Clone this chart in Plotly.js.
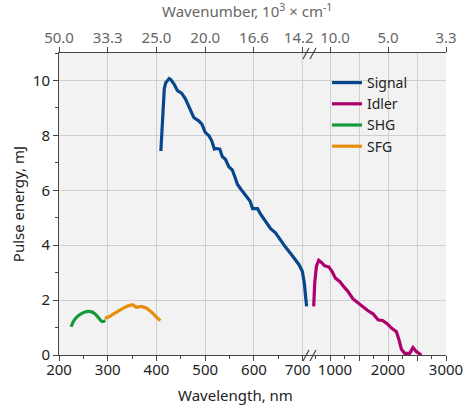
<!DOCTYPE html>
<html>
<head>
<meta charset="utf-8">
<script src="https://cdn.plot.ly/plotly-3.0.1.min.js"></script>
<style>html,body{margin:0;padding:0;background:#fff;}#chart{width:463px;height:410px;}</style>
</head>
<body>
<div id="chart"></div>
<script>
// ---- data ----
var signalX = [409, 412.7, 416, 419, 422.8, 426, 429.4, 436, 443, 451.5, 459.6, 467.6, 476.5, 486.6, 493.2, 500, 508, 513.4, 518.8, 523.4, 530, 534.9, 541.5, 548.2, 555.6, 561.7, 566, 573.7, 583.8, 591.9, 597.3, 607.4, 614, 624, 634.2, 644.2, 654.3, 664.3, 674.4, 684.5, 692.5, 699.2, 703.3, 706, 708];
var signalY = [7.43, 8.96, 9.69, 9.92, 10.03, 10.07, 10.03, 9.87, 9.63, 9.54, 9.32, 9.02, 8.65, 8.53, 8.41, 8.11, 7.98, 7.80, 7.50, 7.52, 7.50, 7.23, 7.13, 6.86, 6.74, 6.45, 6.22, 6.03, 5.81, 5.61, 5.33, 5.33, 5.12, 4.87, 4.60, 4.45, 4.18, 3.94, 3.72, 3.50, 3.29, 3.05, 2.62, 2.13, 1.77];

var idlerX = [719, 736, 765, 805, 852, 909, 978, 1034, 1093, 1167, 1241, 1310, 1397, 1483, 1569, 1655, 1741, 1828, 1914, 1990, 2059, 2145, 2190, 2231, 2288, 2374, 2431, 2490, 2576];
var idlerY = [1.77, 2.62, 3.23, 3.45, 3.37, 3.25, 3.21, 3.05, 2.80, 2.68, 2.48, 2.31, 2.04, 1.89, 1.74, 1.61, 1.50, 1.28, 1.25, 1.13, 0.98, 0.85, 0.55, 0.21, 0.06, 0.06, 0.27, 0.12, 0.0];

var shgX = [224.8, 231.5, 241.5, 251.6, 265, 273.8, 281.8, 288.5, 295.3];
var shgY = [1.03, 1.28, 1.46, 1.56, 1.58, 1.50, 1.34, 1.22, 1.25];

var sfgX = [294, 302, 312, 322, 332, 342, 350.3, 359, 369, 379, 389, 399, 408];
var sfgY = [1.34, 1.38, 1.50, 1.62, 1.71, 1.79, 1.83, 1.74, 1.77, 1.71, 1.58, 1.40, 1.25];

// tick labels: wavelength (bottom) and wavenumber (top)
var leftTicks = [200, 300, 400, 500, 600];
var leftTickText = ['200', '300', '400', '500', '600'];
var leftBreakTick = [700];
var leftBreakText = ['700'];
var rightTicks = [1500, 2000, 2500, 3000];
var rightTickText = ['', '2000', '', '3000'];
var rightBreakTick = [1000];
var rightBreakText = ['1000'];
var topLeftTicks = [200, 300, 400, 500, 600];
var topLeftText = ['50.0', '33.3', '25.0', '20.0', '16.6'];
var topLeftBreakText = ['14.2'];
var topRightTicks = [2000, 3000];
var topRightText = ['5.0', '3.3'];
var topRightBreakText = ['10.0'];

// ---- styling ----
var FONT = 'Noto Sans, Open Sans, sans-serif';
var W = 463, H = 410, ML = 59, MR = 17, MT = 53, MB = 55;
var PW = W - ML - MR, PH = H - MT - MB;
var split = 251 / PW;
function px(x) { return (x - ML) / PW; }
function py(y) { return (H - MB - y) / PH; }

var lw = 3.2;
function carrier(xs, axis) {
  return {x: xs, y: xs.map(function () { return null; }), xaxis: axis, yaxis: 'y', mode: 'lines', showlegend: false, hoverinfo: 'skip'};
}
var traces = [
  {x: signalX, y: signalY, xaxis: 'x', yaxis: 'y', mode: 'lines', name: 'Signal', line: {color: '#08468c', width: lw}},
  {x: idlerX, y: idlerY, xaxis: 'x2', yaxis: 'y', mode: 'lines', name: 'Idler', line: {color: '#ad006e', width: lw}},
  {x: shgX, y: shgY, xaxis: 'x', yaxis: 'y', mode: 'lines', name: 'SHG', line: {color: '#17993a', width: lw, shape: 'spline'}},
  {x: sfgX, y: sfgY, xaxis: 'x', yaxis: 'y', mode: 'lines', name: 'SFG', line: {color: '#e88e0c', width: lw}},
  // empty carriers so the overlaid axes are drawn
  carrier(topLeftTicks, 'x3'), carrier(topRightTicks, 'x4'),
  carrier(leftBreakTick, 'x5'), carrier(rightBreakTick, 'x6'),
  carrier(leftBreakTick, 'x7'), carrier(rightBreakTick, 'x8')
];

var axisCommon = {
  showline: true, linecolor: '#444', linewidth: 1,
  ticks: 'outside', ticklen: 5, tickcolor: '#444', tickwidth: 1,
  gridcolor: '#cfcfcf', gridwidth: 1, zeroline: false, ticklabeloverflow: 'allow',
  tickfont: {family: FONT, size: 15, color: '#222'}
};
function ax(extra) { return Object.assign({}, axisCommon, extra); }
var topFont = {family: FONT, size: 15, color: '#666'};

var slashes = [];
[[303, 309], [310, 316]].forEach(function (s) {
  slashes.push({type: 'line', xref: 'paper', yref: 'paper', x0: px(s[0]), y0: py(H - MB + 6), x1: px(s[1]), y1: py(H - MB - 5), line: {color: '#444', width: 1.2}});
  slashes.push({type: 'line', xref: 'paper', yref: 'paper', x0: px(s[0]), y0: py(MT + 6), x1: px(s[1]), y1: py(MT - 5), line: {color: '#444', width: 1.2}});
});

var layout = {
  width: W, height: H,
  margin: {l: ML, r: MR, t: MT, b: MB},
  paper_bgcolor: '#ffffff', plot_bgcolor: '#f2f2f2',
  font: {family: FONT, size: 15, color: '#222'},
  showlegend: true,
  legend: {x: px(327), y: py(67), xanchor: 'left', yanchor: 'top', bgcolor: 'rgba(0,0,0,0)',
           font: {family: FONT, size: 14, color: '#222'}, tracegroupgap: 0, itemwidth: 30},
  xaxis: ax({domain: [0, split], range: [200, 715], tickmode: 'array', tickvals: leftTicks, ticktext: leftTickText,
             ticklabelstandoff: -4,
             minor: {dtick: 50, tick0: 200, ticks: 'outside', ticklen: 3, tickcolor: '#444', showgrid: false}, anchor: 'y'}),
  xaxis2: ax({domain: [split, 1], range: [655, 3000], tickmode: 'array', tickvals: rightTicks, ticktext: rightTickText,
             ticklabelstandoff: -4,
             minor: {dtick: 250, tick0: 0, ticks: 'outside', ticklen: 3, tickcolor: '#444', showgrid: false}, anchor: 'y'}),
  xaxis3: ax({overlaying: 'x', matches: 'x', side: 'top', anchor: 'y', showgrid: false, tickmode: 'array',
             tickvals: topLeftTicks, ticktext: topLeftText, ticklabelstandoff: -2, tickfont: topFont}),
  xaxis4: ax({overlaying: 'x2', matches: 'x2', side: 'top', anchor: 'y', showgrid: false, tickmode: 'array',
             tickvals: topRightTicks, ticktext: topRightText, ticklabelstandoff: -2, tickfont: topFont}),
  // labels next to the axis break, nudged apart as in the original
  xaxis5: ax({overlaying: 'x', matches: 'x', side: 'bottom', anchor: 'y', showline: false, showgrid: true, tickmode: 'array',
             tickvals: leftBreakTick, ticktext: leftBreakText, ticklabelstandoff: -4, ticklabelshift: -5}),
  xaxis6: ax({overlaying: 'x2', matches: 'x2', side: 'bottom', anchor: 'y', showline: false, showgrid: true, tickmode: 'array',
             tickvals: rightBreakTick, ticktext: rightBreakText, ticklabelstandoff: -4, ticklabelshift: 5}),
  xaxis7: ax({overlaying: 'x', matches: 'x', side: 'top', anchor: 'y', showline: false, showgrid: false, tickmode: 'array',
             tickvals: leftBreakTick, ticktext: topLeftBreakText, ticklabelstandoff: -2, ticklabelshift: -4, tickfont: topFont}),
  xaxis8: ax({overlaying: 'x2', matches: 'x2', side: 'top', anchor: 'y', showline: false, showgrid: false, tickmode: 'array',
             tickvals: rightBreakTick, ticktext: topRightBreakText, ticklabelstandoff: -2, ticklabelshift: 5, tickfont: topFont}),
  yaxis: ax({range: [0, 11], dtick: 2, tick0: 0, anchor: 'x',
             minor: {dtick: 1, tick0: 0, ticks: 'outside', ticklen: 3, tickcolor: '#444', showgrid: false},
             title: {text: 'Pulse energy, mJ', font: {family: FONT, size: 15, color: '#222'}, standoff: 4}}),
  shapes: slashes,
  annotations: [
    {text: 'Wavelength, nm', xref: 'paper', yref: 'paper', x: px(235), y: py(395), xanchor: 'center', yanchor: 'middle',
     showarrow: false, font: {family: FONT, size: 15, color: '#222'}},
    {text: 'Wavenumber, 10<sup>3</sup> × cm<sup>-1</sup>', xref: 'paper', yref: 'paper', x: px(247), y: py(11), xanchor: 'center', yanchor: 'middle',
     showarrow: false, font: {family: FONT, size: 15, color: '#666'}}
  ]
};

Plotly.newPlot('chart', traces, layout, {displayModeBar: false, staticPlot: true});
</script>
</body>
</html>
